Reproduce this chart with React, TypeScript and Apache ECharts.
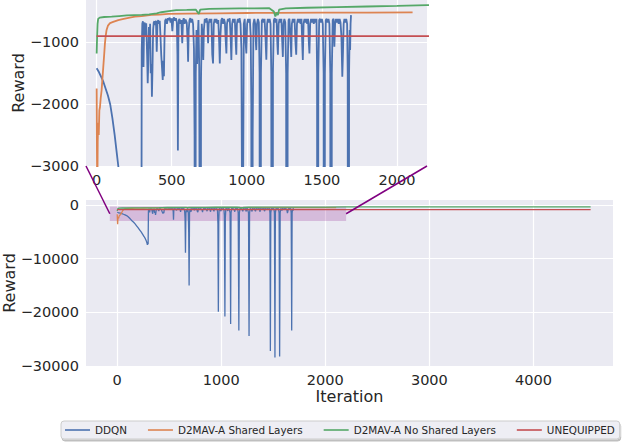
import React, { useEffect, useRef } from 'react';
import * as echarts from 'echarts';

// ---- data: [iteration, reward] ----
const ddqn: [number, number][] = [
  [0,-1420],[15,-1480],[30,-1560],[45,-1640],[60,-1750],[75,-1860],[90,-2000],[105,-2230],[120,-2500],[132,-2750],
  [144,-3000],[158,-3250],[172,-3550],[186,-3900],[200,-4250],[215,-4650],[230,-5050],[245,-5500],[258,-5900],[270,-6300],
  [280,-6750],[286,-7100],[290,-7450],[294,-6900],[297,-7350],
  [300,-1150],[304,-700],[308,-660],[312,-1400],[316,-700],[320,-680],[325,-900],[330,-690],[336,-1200],[340,-1660],
  [344,-1300],[348,-750],[352,-1100],[356,-700],[360,-1500],[365,-1350],[368,-1880],[372,-1400],[376,-800],[380,-680],
  [385,-660],[390,-720],[395,-650],[400,-1150],[405,-680],[410,-640],[415,-700],[420,-650],[425,-900],[430,-1200],
  [435,-1400],[440,-1610],[444,-1300],[448,-1550],[452,-900],[456,-650],[462,-620],[468,-700],[474,-610],[480,-640],
  [486,-600],[492,-680],[498,-610],[504,-820],[510,-620],[516,-600],[522,-650],[528,-610],[534,-680],[538,-1200],
  [541,-2750],[544,-1000],[547,-640],[552,-620],[558,-700],[564,-640],[570,-1016],[575,-650],[580,-610],[586,-700],
  [592,-630],[600,-680],[606,-1000],[609,-1313],[613,-800],[618,-640],[624,-610],[630,-680],[636,-620],[642,-700],
  [648,-1100],[652,-2500],[656,-8900],[660,-1500],[665,-800],[669,-1350],[673,-900],[678,-640],[683,-1400],[687,-5000],
  [691,-15000],[695,-1600],[700,-700],[705,-900],[710,-1286],[714,-800],[720,-620],[726,-680],[732,-610],[738,-700],
  [742,-1016],[746,-700],[752,-620],[758,-680],[764,-620],[770,-1200],[775,-1340],[780,-700],[786,-620],[792,-680],
  [798,-620],[804,-700],[810,-640],[816,-1000],[820,-1340],[824,-900],[830,-640],[836,-610],[842,-700],[848,-620],
  [854,-680],[860,-1000],[864,-1180],[868,-700],[874,-620],[880,-660],[886,-610],[892,-900],[897,-1286],[902,-700],
  [908,-620],[914,-680],[920,-620],[926,-1000],[930,-1200],[934,-700],[940,-620],[946,-680],[952,-610],[958,-700],
  [964,-1100],[968,-3500],[972,-19900],[976,-3000],[980,-700],[986,-620],[992,-1000],[997,-1180],[1002,-700],[1008,-620],
  [1014,-680],[1020,-620],[1026,-900],[1030,-2000],[1035,-20800],[1039,-2500],[1044,-700],[1050,-620],[1056,-700],[1060,-1000],
  [1063,-1125],[1068,-700],[1074,-620],[1080,-680],[1085,-1500],[1090,-22200],[1094,-1500],[1100,-650],[1106,-620],[1112,-680],
  [1118,-620],[1124,-900],[1130,-1280],[1135,-700],[1140,-620],[1146,-680],[1152,-620],[1158,-700],[1163,-1500],[1169,-23400],
  [1174,-1500],[1180,-640],[1186,-610],[1192,-680],[1198,-620],[1203,-1000],[1207,-1200],[1212,-700],[1218,-620],[1224,-680],
  [1230,-620],[1236,-1000],[1240,-1235],[1244,-700],[1250,-620],[1256,-680],[1262,-1500],[1267,-24400],[1272,-1500],[1278,-640],
  [1284,-620],[1290,-900],[1296,-1235],[1300,-700],[1306,-620],[1312,-680],[1318,-620],[1324,-1000],[1329,-1200],[1334,-700],
  [1340,-620],[1346,-680],[1352,-620],[1358,-700],[1364,-620],[1369,-1000],[1373,-1286],[1378,-700],[1384,-620],[1390,-680],
  [1396,-620],[1402,-700],[1408,-620],[1413,-1000],[1417,-1180],[1422,-700],[1428,-620],[1434,-680],[1440,-620],[1446,-700],
  [1452,-620],[1458,-680],[1464,-620],[1468,-1500],[1472,-27200],[1476,-1500],[1482,-640],[1488,-620],[1494,-680],[1500,-620],
  [1506,-700],[1511,-1500],[1516,-28400],[1520,-1500],[1526,-640],[1532,-620],[1538,-680],[1544,-620],[1550,-700],[1556,-1500],
  [1561,-28250],[1566,-1500],[1572,-640],[1578,-620],[1583,-1070],[1588,-700],[1594,-620],[1600,-680],[1606,-620],[1612,-700],
  [1618,-620],[1624,-680],[1630,-900],[1636,-1557],[1640,-1200],[1645,-700],[1650,-620],[1656,-680],[1662,-620],[1668,-700],
  [1672,-1500],[1677,-23400],[1681,-1500],[1685,-800],[1688,-1125],[1691,-700],[1694,-560],
];

const sharedLayers: [number, number][] = [
  [0,-1746],[2,-2800],[4,-3600],[7,-2600],[10,-2300],[14,-2500],[18,-2100],[22,-2050],[27,-1900],[33,-1775],
  [38,-1600],[44,-1400],[50,-1200],[55,-1020],[60,-900],[66,-800],[75,-730],[89,-690],[110,-670],[144,-640],
  [180,-620],[220,-600],[255,-585],[300,-575],[366,-557],[420,-550],[477,-540],[600,-535],[800,-530],[1000,-525],
  [1200,-522],[1500,-520],[1800,-518],[2104,-515],
];

const noSharedLayers: [number, number][] = [
  [0,-1180],[3,-900],[6,-700],[10,-620],[20,-600],[50,-590],[100,-585],[150,-575],[200,-565],[250,-560],
  [300,-555],[350,-548],[400,-530],[430,-513],[480,-495],[530,-480],[600,-475],[660,-470],[680,-540],[690,-470],
  [750,-460],[850,-455],[950,-452],[1050,-450],[1150,-448],[1180,-500],[1190,-580],[1200,-520],[1207,-560],[1215,-470],
  [1260,-450],[1400,-440],[1600,-430],[1800,-420],[2000,-410],[2200,-398],[2600,-395],[3000,-392],[3500,-390],[4000,-388],
  [4550,-385],
];

const unequipped: [number, number][] = [[0,-900],[4550,-900]];

const seriesNames = ['DDQN', 'D2MAV-A Shared Layers', 'D2MAV-A No Shared Layers', 'UNEQUIPPED'];
const seriesData = [ddqn, sharedLayers, noSharedLayers, unequipped];

// zoomed region (inset axes limits)
const insetX: [number, number] = [-71, 2200];
const insetY: [number, number] = [-3000, -315];
const mainX: [number, number] = [-300, 4765];
const mainY: [number, number] = [-30000, 900];

const COLORS = ['#4C72B0', '#DD8452', '#55A868', '#C44E52'];
const FONT = 'DejaVu Sans';
const TXT = '#262626';
const fmt = (v: number) => (v < 0 ? '\u2212' + Math.abs(v) : String(v));

export default function App() {
  const ref = useRef<HTMLDivElement>(null);
  useEffect(() => {
    if (!ref.current) return;
    const chart = echarts.init(ref.current, undefined, { renderer: 'svg' });
    const axisCommon = (step: number) => ({
      type: 'value' as const,
      axisLine: { show: false },
      axisTick: { show: false },
      splitLine: { show: true, showMinLine: false, showMaxLine: false, lineStyle: { color: '#ffffff', width: 1.2 } },
      axisLabel: {
        color: TXT, fontFamily: FONT, fontSize: 14.5,
        formatter: (v: number) => (Math.abs(v % step) < 1e-6 ? fmt(v) : ''),
        showMinLabel: true, showMaxLabel: true,
      },
      nameMoveOverlap: false,
      nameTextStyle: { color: TXT, fontFamily: FONT, fontSize: 16 },
    });
    const series: any[] = [];
    seriesData.forEach((d, i) => {
      series.push({
        name: seriesNames[i], type: 'line', xAxisIndex: 0, yAxisIndex: 0, data: d,
        showSymbol: false, symbol: 'none', lineStyle: { color: COLORS[i], width: 1.3 }, itemStyle: { color: COLORS[i] },
        clip: true, z: 2,
      });
      series.push({
        name: seriesNames[i], type: 'line', xAxisIndex: 1, yAxisIndex: 1, data: d,
        showSymbol: false, symbol: 'none', lineStyle: { color: COLORS[i], width: 1.8 }, itemStyle: { color: COLORS[i] },
        clip: true, z: 2,
      });
    });
    series.push({
      type: 'line', xAxisIndex: 0, yAxisIndex: 0, data: [], z: 5,
      markArea: {
        silent: true,
        itemStyle: { color: 'rgba(128,0,128,0.2)' },
        data: [[{ coord: [insetX[0], insetY[1]] }, { coord: [insetX[1], insetY[0]] }]],
      },
    });
    chart.setOption({
      animation: false,
      backgroundColor: '#ffffff',
      grid: [
        { left: 86, top: 200, width: 527, height: 166, show: true, backgroundColor: '#EAEAF2', borderWidth: 0,
          containLabel: false, outerBoundsMode: 'none' },
        { left: 86, top: 0, width: 341, height: 166, show: true, backgroundColor: '#EAEAF2', borderWidth: 0,
          containLabel: false, outerBoundsMode: 'none' },
      ],
      xAxis: [
        { ...axisCommon(1000), gridIndex: 0, min: mainX[0], max: mainX[1], splitNumber: 5,
          name: 'Iteration', nameLocation: 'middle', nameGap: 22,
          axisLabel: { ...axisCommon(1000).axisLabel, margin: 6 } },
        { ...axisCommon(500), gridIndex: 1, min: insetX[0], max: insetX[1], splitNumber: 5,
          axisLabel: { ...axisCommon(500).axisLabel, margin: 6 } },
      ],
      yAxis: [
        { ...axisCommon(10000), gridIndex: 0, min: mainY[0], max: mainY[1], interval: 10000,
          name: 'Reward', nameLocation: 'middle', nameGap: 69,
          axisLabel: { ...axisCommon(10000).axisLabel, margin: 7 } },
        { ...axisCommon(1000), gridIndex: 1, min: insetY[0], max: insetY[1], interval: 1000,
          name: 'Reward', nameLocation: 'middle', nameGap: 60,
          axisLabel: { ...axisCommon(1000).axisLabel, margin: 7 } },
      ],
      legend: {
        data: seriesNames,
        left: 61, top: 421, orient: 'horizontal',
        padding: [4, 5, 4, 4],
        itemGap: 21, itemWidth: 25, itemHeight: 1.6, icon: 'rect',
        textStyle: { color: TXT, fontFamily: FONT, fontSize: 10.4 },
        backgroundColor: '#EEEEF4', borderColor: '#CCCCCC', borderWidth: 1, borderRadius: 3,
        shadowColor: 'rgba(0,0,0,0.25)', shadowOffsetX: 1, shadowOffsetY: 2, shadowBlur: 0,
        selectedMode: false,
      },
      series,
    });
    const connectY = (insetY[0] + insetY[1]) / 2;
    const a1 = chart.convertToPixel({ gridIndex: 1 } as any, [insetX[0], insetY[0]]) as number[];
    const a2 = chart.convertToPixel({ gridIndex: 1 } as any, [insetX[1], insetY[0]]) as number[];
    const b1 = chart.convertToPixel({ gridIndex: 0 } as any, [insetX[0], connectY]) as number[];
    const b2 = chart.convertToPixel({ gridIndex: 0 } as any, [insetX[1], connectY]) as number[];
    chart.setOption({
      graphic: [
        { type: 'line', shape: { x1: a1[0], y1: a1[1], x2: b1[0], y2: b1[1] }, style: { stroke: '#800080', lineWidth: 1.5 }, z: 100 },
        { type: 'line', shape: { x1: a2[0], y1: a2[1], x2: b2[0], y2: b2[1] }, style: { stroke: '#800080', lineWidth: 1.5 }, z: 100 },
      ],
    });
    return () => chart.dispose();
  }, []);
  return <div ref={ref} style={{ position: 'absolute', left: 0, top: 0, width: 640, height: 444 }} />;
}
